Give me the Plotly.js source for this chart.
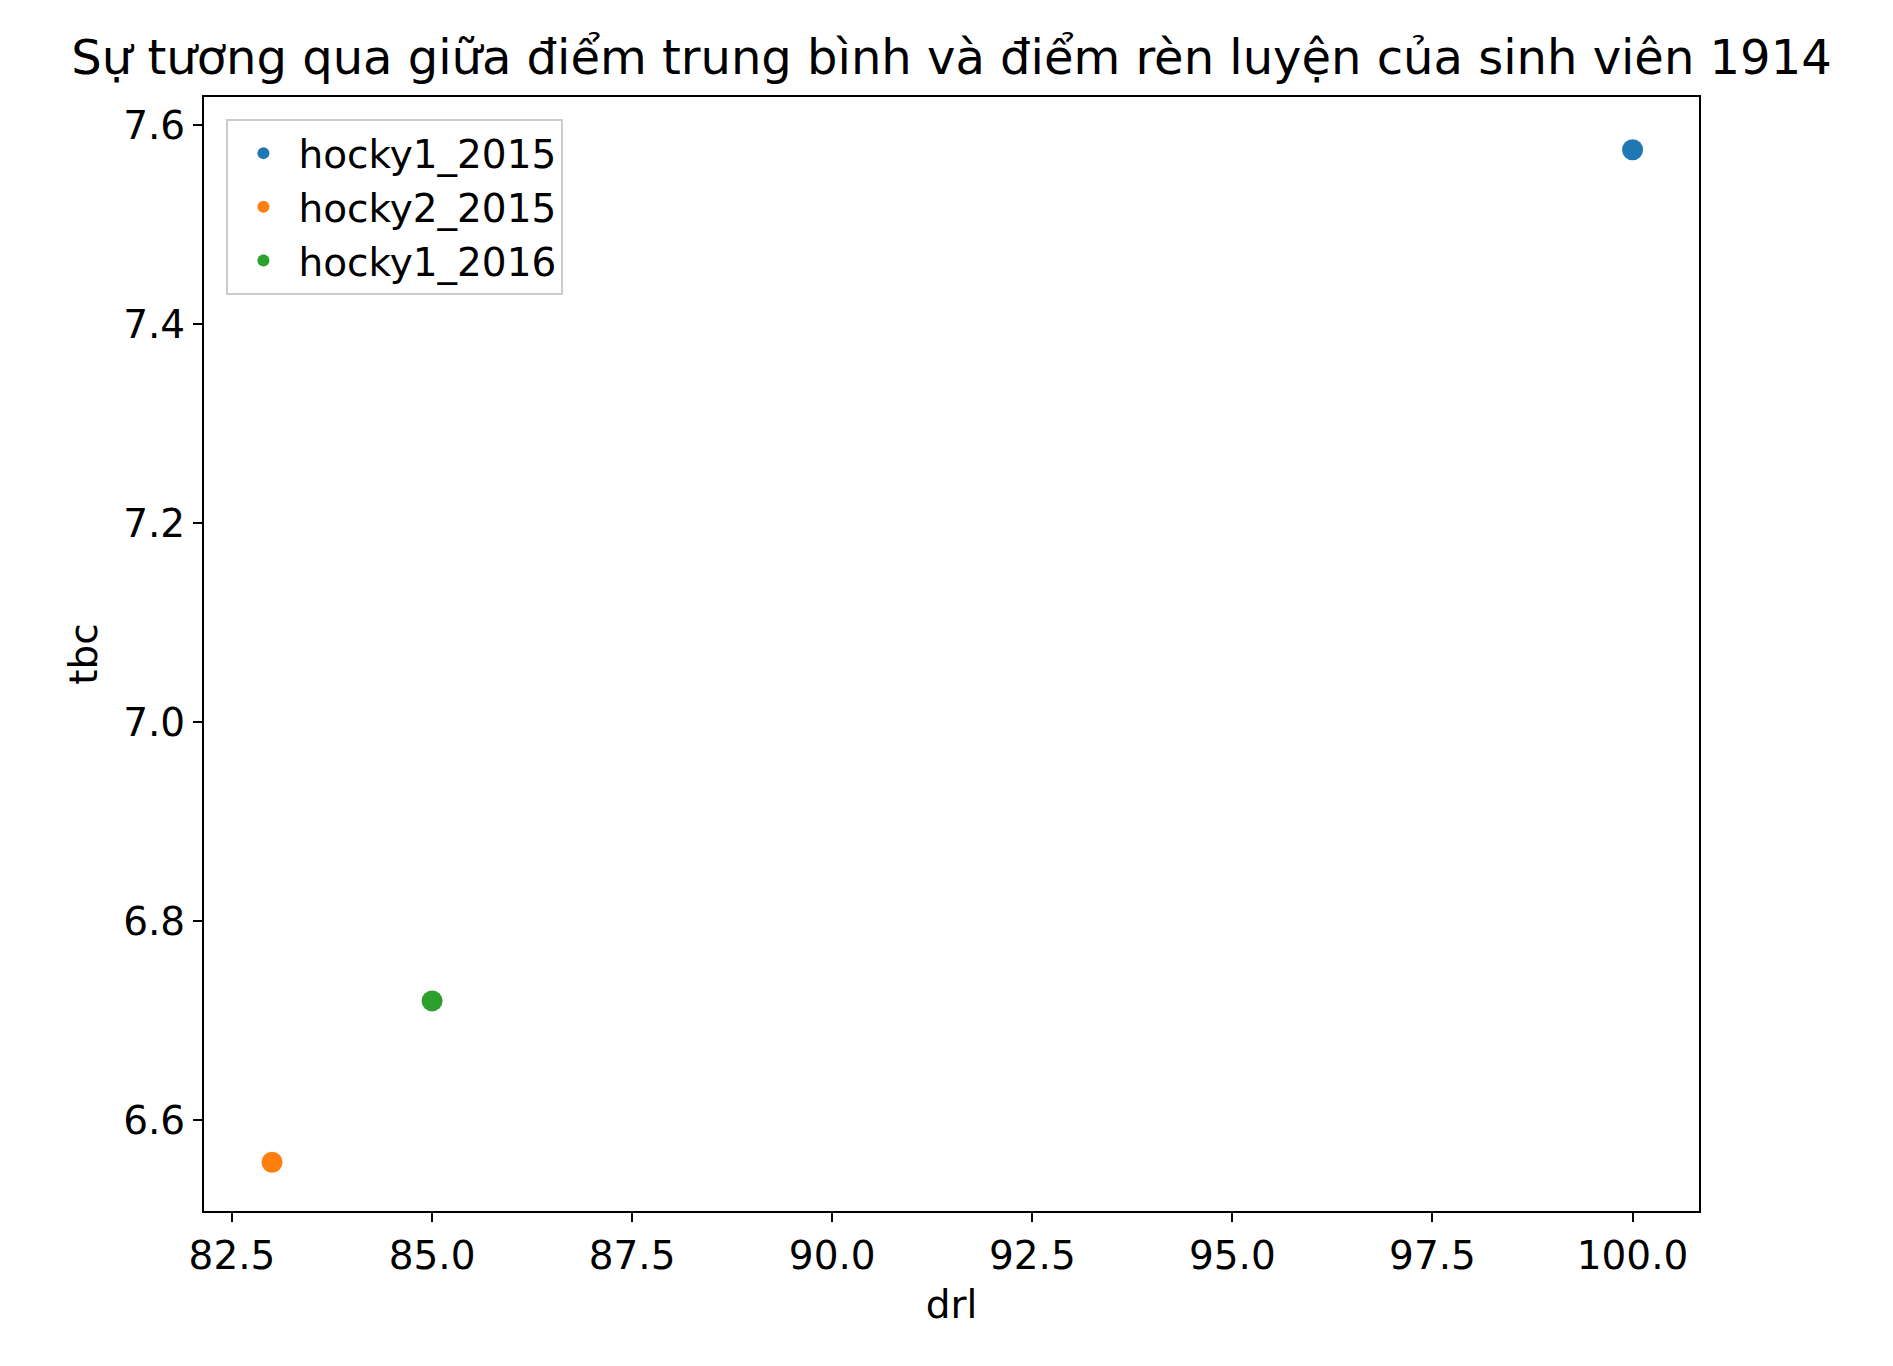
<!DOCTYPE html>
<html>
<head>
<meta charset="utf-8">
<script src="https://cdn.plot.ly/plotly-3.0.1.min.js"></script>
<style>body{margin:0;background:#fff}</style>
</head>
<body>
<div id="plotDiv" style="width:1893px;height:1366px"></div>
<script>
'use strict';

// one point per semester
const seriesNames = ['hocky1_2015', 'hocky2_2015', 'hocky1_2016'];
const seriesColors = ['#1f77b4', '#ff7f0e', '#2ca02c'];
const drl = [100, 83, 85];
const tbc = [7.575, 6.558, 6.72];

const xTicks = [82.5, 85, 87.5, 90, 92.5, 95, 97.5, 100];
const xTickText = ['82.5', '85.0', '87.5', '90.0', '92.5', '95.0', '97.5', '100.0'];
const yTicks = [6.6, 6.8, 7.0, 7.2, 7.4, 7.6];
const yTickText = ['6.6', '6.8', '7.0', '7.2', '7.4', '7.6'];

var data = seriesNames.map(function (name, i) {
    return {
        x: [drl[i]], y: [tbc[i]], name: name,
        type: 'scatter', mode: 'markers',
        marker: {color: seriesColors[i], size: 21}
    };
});

var axisCommon = {
    showgrid: false, zeroline: false, showline: true, mirror: true,
    linecolor: '#000', linewidth: 2, ticks: 'outside', ticklen: 9,
    tickwidth: 2, tickcolor: '#000', tickfont: {size: 39, color: '#000'}
};

var layout = {
    font: {family: 'DejaVu Sans', color: '#000'},
    paper_bgcolor: '#fff', plot_bgcolor: '#fff',
    width: 1893, height: 1366,
    margin: {l: 204, r: 194, t: 97, b: 155},
    title: {text: 'Sự tương qua giữa điểm trung bình và điểm rèn luyện của sinh viên 1914',
        font: {size: 48}, x: 0.5, xref: 'paper', y: 0.958, yanchor: 'middle'},
    xaxis: Object.assign({}, axisCommon, {
        range: [82.15, 100.83], tickvals: xTicks, ticktext: xTickText,
        title: {text: 'drl', font: {size: 39}, standoff: 14}
    }),
    yaxis: Object.assign({}, axisCommon, {
        range: [6.509, 7.628], tickvals: yTicks, ticktext: yTickText,
        title: {text: 'tbc', font: {size: 39}, standoff: 14}
    }),
    showlegend: true,
    legend: {
        x: 0.015, y: 0.98, xanchor: 'left', yanchor: 'top',
        bgcolor: 'rgba(255,255,255,0.8)', bordercolor: '#ccc', borderwidth: 2,
        font: {size: 39}, itemsizing: 'constant', tracegroupgap: 14,
        itemwidth: 60
    }
};

Plotly.newPlot('plotDiv', data, layout, {staticPlot: true});
</script>
</body>
</html>
